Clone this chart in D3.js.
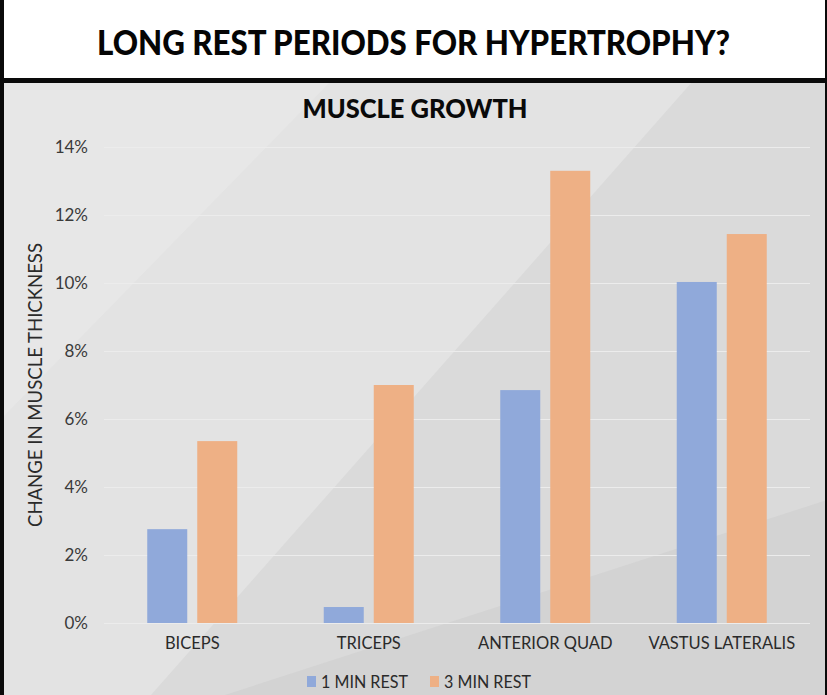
<!DOCTYPE html>
<html>
<head>
<meta charset="utf-8">
<script src="https://cdn.jsdelivr.net/npm/d3@7"></script>
<style>
  html, body { margin: 0; padding: 0; background: #fff; }
  svg { display: block; }
</style>
</head>
<body>
<svg id="chart" width="827" height="695"></svg>
<script>
const categories = ["BICEPS", "TRICEPS", "ANTERIOR QUAD", "VASTUS LATERALIS"];
const seriesNames = ["1 MIN REST", "3 MIN REST"];
const oneMinRest = [0.0276, 0.0047, 0.0685, 0.1003];
const threeMinRest = [0.0535, 0.0700, 0.1330, 0.1144];
const yTicks = [0, 0.02, 0.04, 0.06, 0.08, 0.10, 0.12, 0.14];
const seriesColors = ["#90A9DA", "#EEB085"];
const titleText = "LONG REST PERIODS FOR HYPERTROPHY?";
const chartTitle = "MUSCLE GROWTH";
const yAxisTitle = "CHANGE IN MUSCLE THICKNESS";

const W = 827, H = 695;
const svg = d3.select("#chart");
const font = "Lato, 'Open Sans', sans-serif";

// Header
svg.append("rect").attr("x", 0).attr("y", 0).attr("width", W).attr("height", 80).attr("fill", "#ffffff");

// Panel background
const panel = svg.append("g");
panel.append("rect").attr("x", 0).attr("y", 82).attr("width", W).attr("height", H - 82).attr("fill", "#dadada");
panel.append("path").attr("d", "M0,82 L692,82 L0,866 Z").attr("fill", "#e3e3e3");
panel.append("path").attr("d", "M0,82 L330,82 L0,420 Z").attr("fill", "#e7e7e7");
panel.append("path").attr("d", `M${W},500 L${W},${H} L225,${H} Z`).attr("fill", "#d3d3d3");

// Borders
svg.append("rect").attr("x", 0).attr("y", 78).attr("width", W).attr("height", 5).attr("fill", "#0a0a0a");
svg.append("rect").attr("x", 0).attr("y", 0).attr("width", 4).attr("height", H).attr("fill", "#0a0a0a");
svg.append("rect").attr("x", W - 2).attr("y", 0).attr("width", 2).attr("height", H).attr("fill", "#0a0a0a");

// Titles
svg.append("text").attr("x", 413.5).attr("y", 55).attr("text-anchor", "middle")
  .attr("font-family", font).attr("font-weight", 900).attr("font-size", 35)
  .attr("textLength", 633).attr("lengthAdjust", "spacingAndGlyphs")
  .attr("fill", "#050505").text(titleText);

svg.append("text").attr("x", 415).attr("y", 118).attr("text-anchor", "middle")
  .attr("font-family", font).attr("font-weight", 900).attr("font-size", 26)
  .attr("textLength", 225).attr("lengthAdjust", "spacingAndGlyphs")
  .attr("fill", "#0a0a0a").text(chartTitle);

// Scales
const x0 = d3.scaleBand().domain(categories).range([104, 810]).padding(0);
const groupW = 90;
const x1 = d3.scaleBand().domain(seriesNames).range([0, groupW]).paddingInner(0.2);
const y = d3.scaleLinear().domain([0, 0.14]).range([623, 147]);

// Gridlines
const grid = svg.append("g").attr("transform", "translate(104,0)")
  .call(d3.axisLeft(y).tickValues(yTicks).tickSize(-706).tickFormat(""));
grid.select(".domain").remove();
grid.selectAll(".tick line").attr("stroke", "#ececec").attr("stroke-width", 1);

// Y tick labels
const yAx = svg.append("g").attr("transform", "translate(104,0)")
  .call(d3.axisLeft(y).tickValues(yTicks).tickSize(0).tickPadding(16).tickFormat(d3.format(".0%")));
yAx.select(".domain").remove();
yAx.selectAll("text").attr("font-family", font).attr("font-size", 17).attr("fill", "#3a3a3a").attr("dy", "0.34em");

// Y axis title
svg.append("text").attr("transform", "translate(42,385) rotate(-90)").attr("text-anchor", "middle")
  .attr("font-family", font).attr("font-size", 19).attr("fill", "#2a2a2a")
  .attr("textLength", 284).attr("lengthAdjust", "spacingAndGlyphs").text(yAxisTitle);

// Bars
const rows = categories.map((c, i) => ({ cat: c, vals: [oneMinRest[i], threeMinRest[i]] }));
const groups = svg.append("g").selectAll("g").data(rows).join("g")
  .attr("transform", d => `translate(${x0(d.cat) + (x0.bandwidth() - groupW) / 2},0)`);
groups.selectAll("rect").data(d => d.vals.map((v, j) => ({ s: seriesNames[j], v, j })))
  .join("rect")
  .attr("x", d => x1(d.s))
  .attr("width", x1.bandwidth())
  .attr("y", d => y(d.v))
  .attr("height", d => y(0) - y(d.v))
  .attr("fill", d => seriesColors[d.j]);

// X axis labels
const xAx = svg.append("g").attr("transform", "translate(0,623)")
  .call(d3.axisBottom(x0).tickSize(0).tickPadding(14));
xAx.select(".domain").remove();
xAx.selectAll("text").attr("font-family", font).attr("font-size", 16.5).attr("fill", "#2a2a2a");

// Legend
const legendX = [307, 430];
const leg = svg.append("g").selectAll("g").data(seriesNames).join("g")
  .attr("transform", (d, i) => `translate(${legendX[i]},0)`);
leg.append("rect").attr("x", 0).attr("y", 676).attr("width", 9).attr("height", 11)
  .attr("fill", (d, i) => seriesColors[i]);
leg.append("text").attr("x", 14).attr("y", 688)
  .attr("font-family", font).attr("font-size", 17).attr("fill", "#2a2a2a")
  .attr("textLength", 87).attr("lengthAdjust", "spacingAndGlyphs").text(d => d);
</script>
</body>
</html>
